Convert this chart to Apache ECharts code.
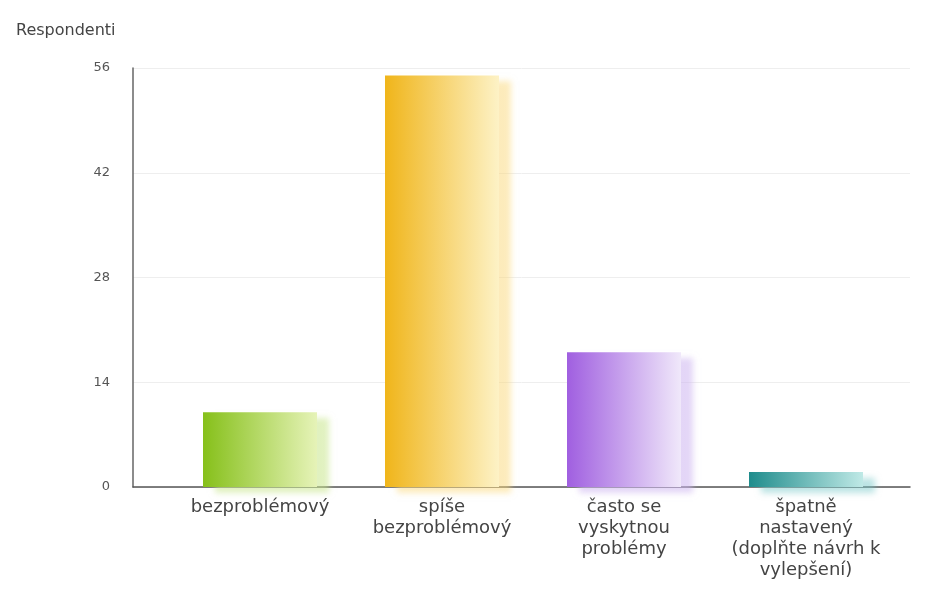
<!DOCTYPE html>
<html><head><meta charset="utf-8">
<script src="https://cdn.jsdelivr.net/npm/echarts@6/dist/echarts.min.js"></script>
<style>html,body{margin:0;padding:0;background:#fff}#c{width:925px;height:591px}</style>
</head><body><div id="c"></div>
<script>
const categories = ['bezproblémový', 'spíše\nbezproblémový', 'často se\nvyskytnou\nproblémy', 'špatně\nnastavený\n(doplňte návrh k\nvylepšení)'];
const values = [10, 55, 18, 2];
const yTicks = { min: 0, max: 56, interval: 14 };
const axisTitle = 'Respondenti';
const palette = [
  ['#86c01a', '#e6f3b8', 'rgba(200,230,140,0.55)'],
  ['#f0b51a', '#fdf2c6', 'rgba(250,215,120,0.5)'],
  ['#a05fe0', '#f0e8fa', 'rgba(205,180,240,0.55)'],
  ['#1f8c8c', '#bfe9e6', 'rgba(120,200,200,0.5)']
];

const chart = echarts.init(document.getElementById('c'));
const font = 'DejaVu Sans';
chart.setOption({
  animation: false,
  title: { text: axisTitle, left: 11, top: 18, textStyle: { fontFamily: font, fontSize: 16, fontWeight: 'normal', color: '#444' } },
  grid: [
    { left: 133, right: 15, top: 68, bottom: 104 },
    { left: 169, right: 28, top: 68, bottom: 104 }
  ],
  xAxis: [
    { type: 'category', gridIndex: 0, data: [''], axisLine: { lineStyle: { color: '#555', width: 1.5 } }, axisTick: { show: false }, axisLabel: { show: false } },
    { type: 'category', gridIndex: 1, data: categories, axisLine: { show: false }, axisTick: { show: false },
      axisLabel: { fontFamily: font, fontSize: 18, color: '#444', lineHeight: 21, margin: 10, interval: 0 } }
  ],
  yAxis: [
    { type: 'value', gridIndex: 0, min: yTicks.min, max: yTicks.max, interval: yTicks.interval,
      axisLine: { show: true, lineStyle: { color: '#666', width: 1.5 } }, axisTick: { show: false },
      axisLabel: { fontFamily: font, fontSize: 13, color: '#555', margin: 23 },
      splitLine: { lineStyle: { color: '#eeeeee' } } },
    { type: 'value', gridIndex: 1, min: yTicks.min, max: yTicks.max, interval: yTicks.interval, show: false, splitLine: { show: false } }
  ],
  series: [{
    type: 'bar', xAxisIndex: 1, yAxisIndex: 1, barWidth: 114,
    data: values.map((v, i) => ({
      value: v,
      itemStyle: {
        color: new echarts.graphic.LinearGradient(0, 0, 1, 0, [
          { offset: 0, color: palette[i][0] },
          { offset: 1, color: palette[i][1] }
        ]),
        shadowColor: palette[i][2], shadowBlur: 6, shadowOffsetX: 12, shadowOffsetY: 6
      }
    }))
  }]
});
</script></body></html>
